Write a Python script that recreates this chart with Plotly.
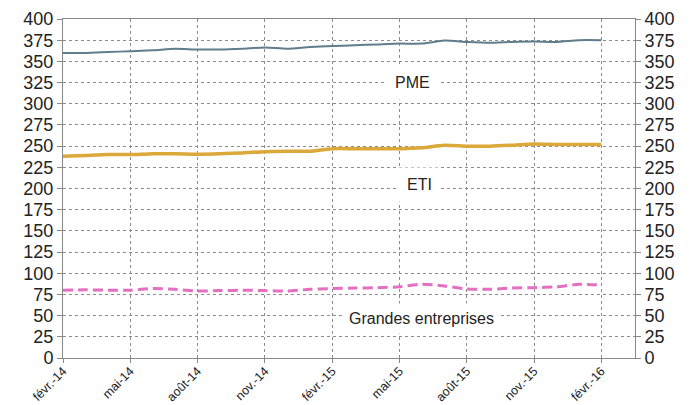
import plotly.graph_objects as go

months = ["févr.-14", "mars-14", "avr.-14", "mai-14", "juin-14", "juil.-14", "août-14",
          "sept.-14", "oct.-14", "nov.-14", "déc.-14", "janv.-15", "févr.-15", "mars-15",
          "avr.-15", "mai-15", "juin-15", "juil.-15", "août-15", "sept.-15", "oct.-15",
          "nov.-15", "déc.-15", "janv.-16", "févr.-16"]

pme = [360, 360, 361, 362, 363, 365, 364, 364, 365, 366.5, 365, 367, 368, 369, 370,
       371, 371, 374.5, 373, 372, 373, 373.5, 373, 375, 375]
eti = [238, 239, 240, 240, 241, 241, 240.5, 241, 242, 243.5, 244, 244, 247, 247, 247,
       247, 248, 251, 250, 250, 251, 252.5, 252, 252, 252]
ge = [80, 80.5, 80, 80, 82, 81, 79, 79.5, 80, 79.5, 79, 81, 82, 82.5, 83, 84, 87, 85,
      81.5, 81, 82.5, 83, 84, 87, 86]

tick_idx = list(range(0, 25, 3))
tick_text = [months[i] for i in tick_idx]
y_ticks = list(range(0, 401, 25))

x = list(range(len(months)))

fig = go.Figure()
fig.add_trace(go.Scatter(x=x, y=pme, mode="lines", name="PME",
                         line=dict(color="#5f7d8c", width=2, shape="spline", smoothing=0.6)))
fig.add_trace(go.Scatter(x=x, y=eti, mode="lines", name="ETI",
                         line=dict(color="#dba83a", width=3.5, shape="spline", smoothing=0.6)))
fig.add_trace(go.Scatter(x=x, y=ge, mode="lines", name="Grandes entreprises",
                         line=dict(color="#e46fc2", width=3, dash="10px,5px",
                                   shape="spline", smoothing=0.6)))
# invisible trace for right axis
fig.add_trace(go.Scatter(x=[x[0]], y=[pme[0]], yaxis="y2", mode="markers",
                         marker=dict(opacity=0), showlegend=False, hoverinfo="skip"))

grid = dict(showgrid=True, gridcolor="#8c8c8c", griddash="dot", gridwidth=1)

# page body has an 8px margin, so the figure is shifted; compensate
fig.update_layout(
    width=683, height=397,
    margin=dict(l=55, r=56, t=11, b=47),
    paper_bgcolor="white", plot_bgcolor="white",
    showlegend=False,
    font=dict(family="Liberation Sans, Arial, sans-serif", color="#222"),
    xaxis=dict(range=[0, 25.5], tickmode="array", tickvals=tick_idx, ticktext=tick_text,
               tickangle=-45, tickfont=dict(size=12.5), ticks="outside", ticklen=4,
               ticklabelstandoff=-4,
               tickcolor="#888", showline=True, linecolor="#888", linewidth=1,
               mirror=True, zeroline=False, automargin=False, **grid),
    yaxis=dict(range=[0, 400], tickmode="array", tickvals=y_ticks,
               tickfont=dict(size=18), ticks="outside", ticklen=5, tickcolor="#888",
               showline=True, linecolor="#888", linewidth=1, mirror=True,
               zeroline=False, automargin=False, **grid),
    yaxis2=dict(range=[0, 400], tickmode="array", tickvals=y_ticks, overlaying="y",
                side="right", tickfont=dict(size=18), ticks="outside", ticklen=5,
                tickcolor="#888", showgrid=False, showline=False, zeroline=False,
                automargin=False),
)

fig.add_annotation(x=15.6, y=325, text="PME", showarrow=False, bgcolor="white",
                   font=dict(size=16), borderpad=8)
fig.add_annotation(x=15.9, y=205, text="ETI", showarrow=False, bgcolor="white",
                   font=dict(size=16), borderpad=8)
fig.add_annotation(x=16.0, y=47, text="Grandes entreprises", showarrow=False,
                   bgcolor="white", font=dict(size=16), borderpad=6)

fig.write_html("out.html")
